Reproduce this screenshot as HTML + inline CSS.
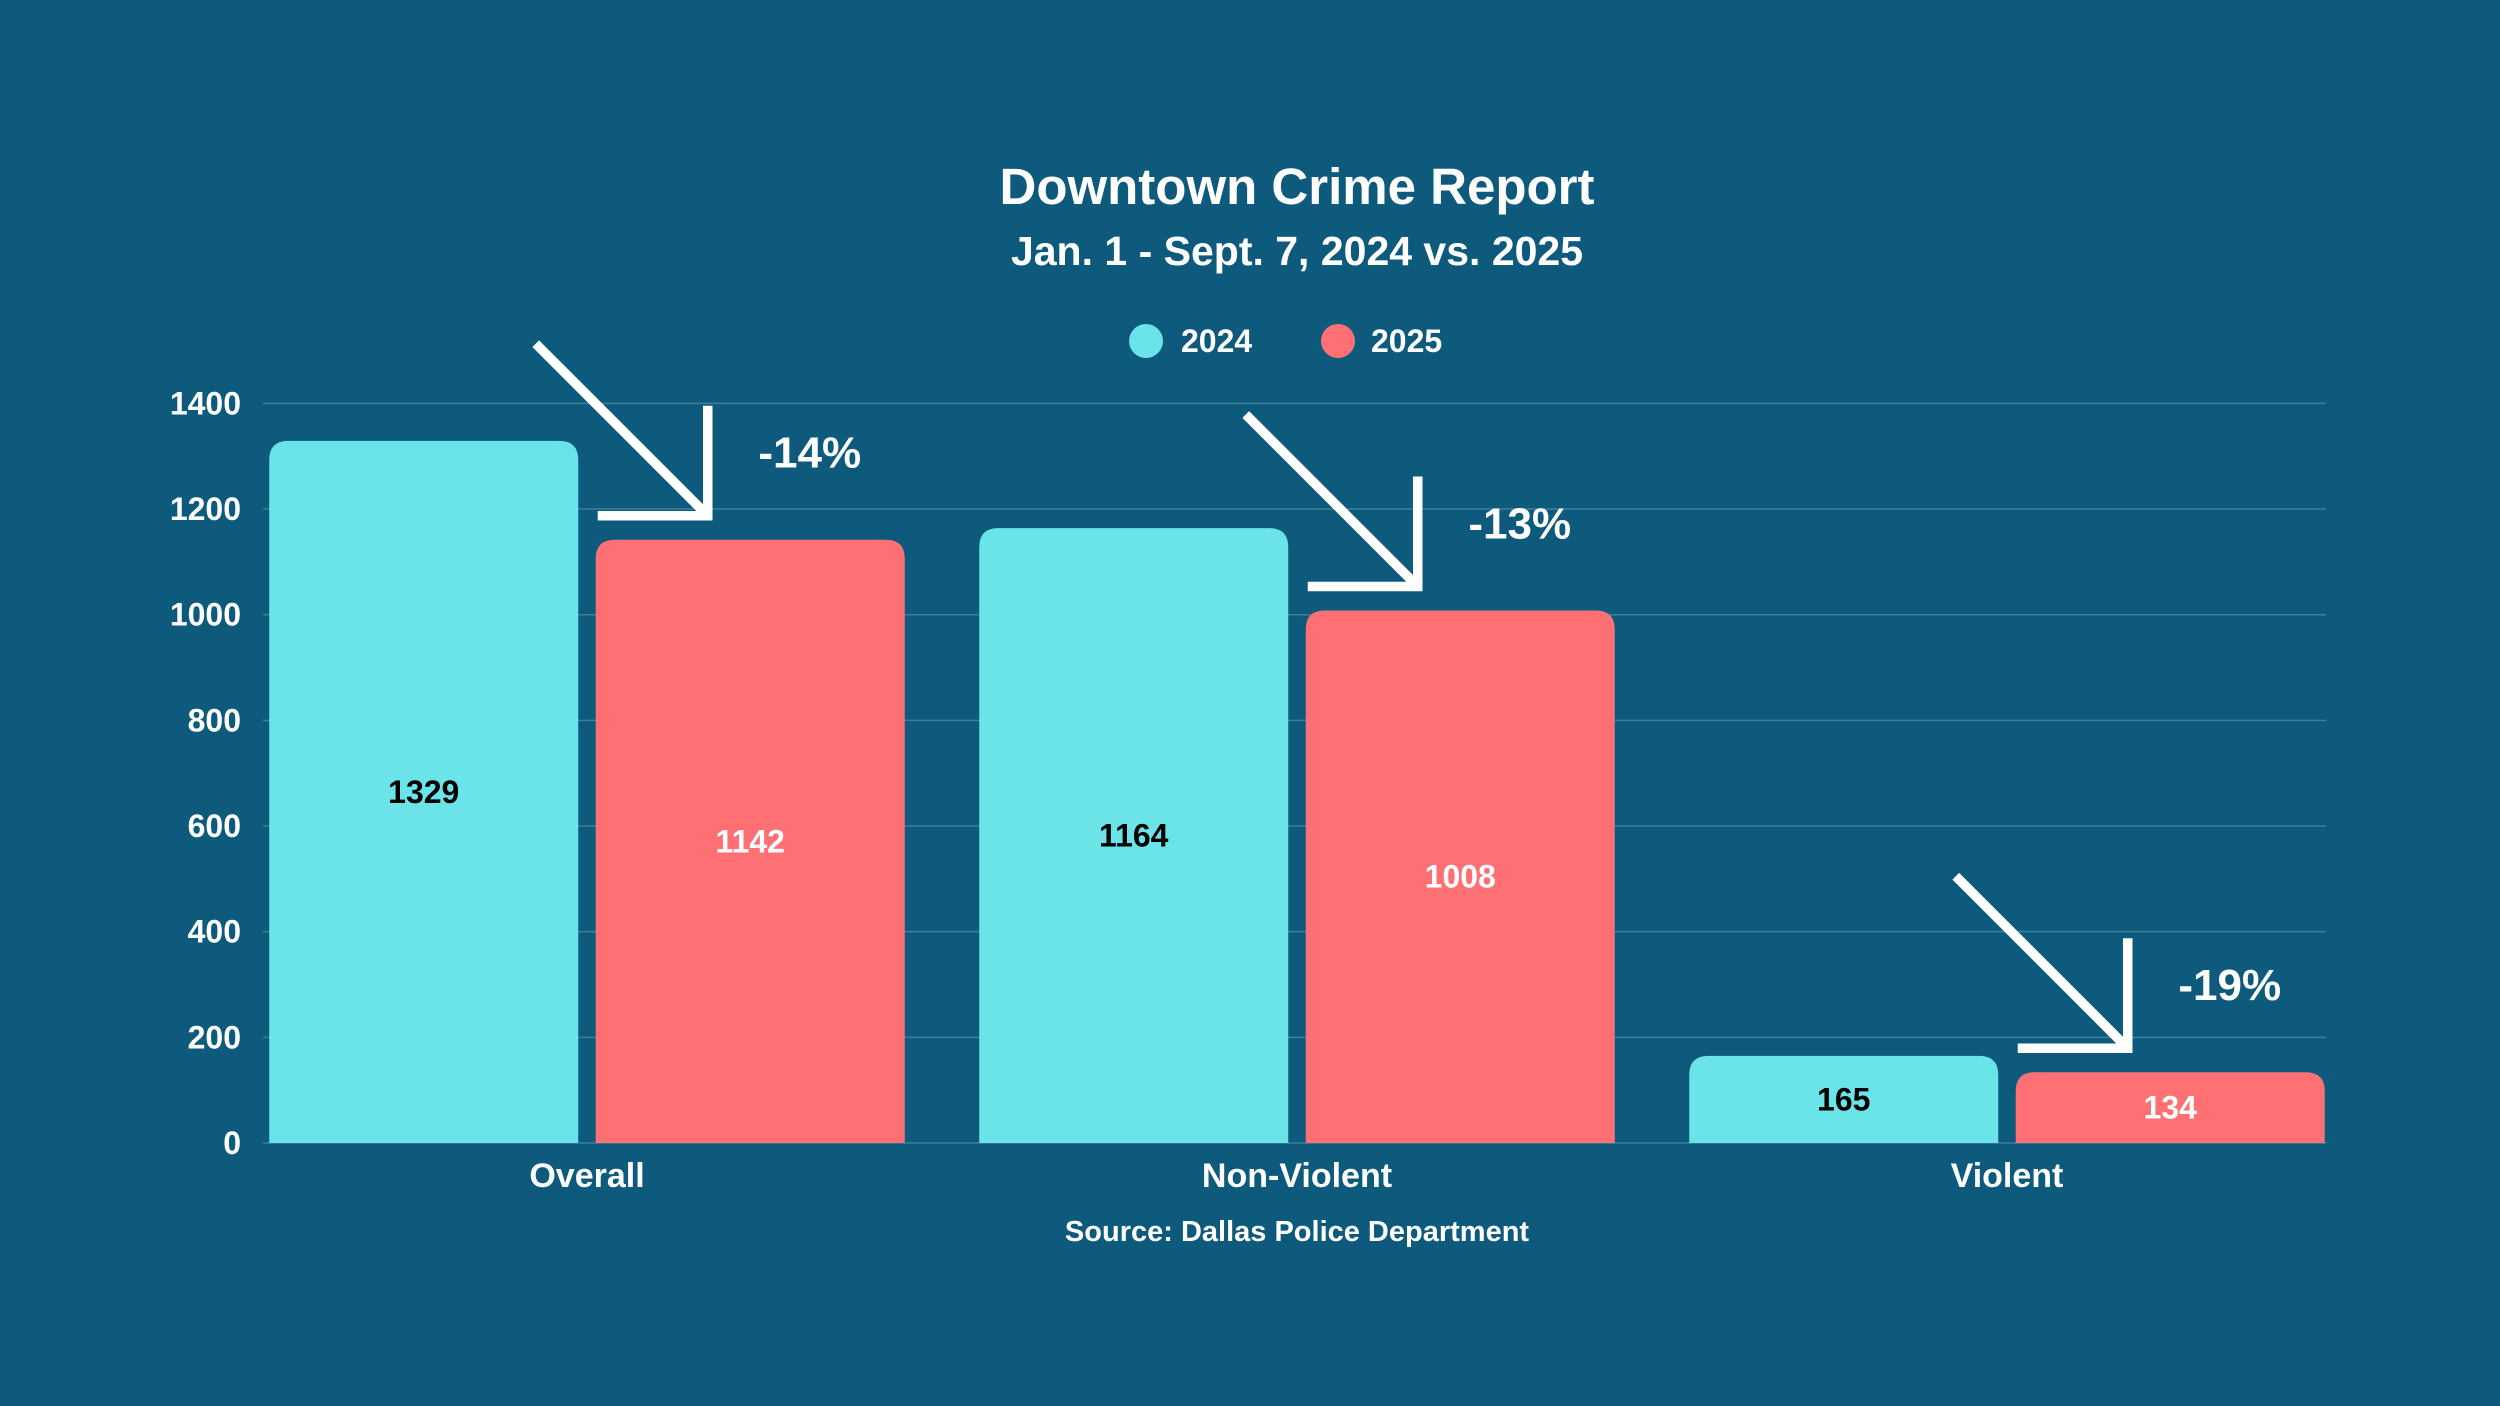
<!DOCTYPE html>
<html><head><meta charset="utf-8">
<style>
html,body{margin:0;padding:0;background:#0e5a7d;}
svg{display:block;font-family:"Liberation Sans",Arial,sans-serif;font-weight:bold;}
</style></head>
<body>
<svg id="chart" width="2500" height="1406" viewBox="0 0 2500 1406" xmlns="http://www.w3.org/2000/svg">
<rect width="2500" height="1406" fill="#0e5a7d"/>
<text x="1297" y="204" text-anchor="middle" fill="#fff" font-size="51">Downtown Crime Report</text>
<text x="1297" y="265" text-anchor="middle" fill="#fff" font-size="41">Jan. 1 - Sept. 7, 2024 vs. 2025</text>
<g>
<circle cx="1146" cy="341" r="17" fill="#6ae4e8"/>
<text x="1181" y="352" fill="#fff" font-size="32">2024</text>
<circle cx="1338" cy="341" r="17" fill="#ff7074"/>
<text x="1371" y="352" fill="#fff" font-size="32">2025</text>
</g>
<g id="grid"></g><g id="bars"></g><g id="ann"></g>
<text x="1297" y="1241" text-anchor="middle" fill="#fff" font-size="29">Source: Dallas Police Department</text>
</svg>
<script>
const categories = ["Overall", "Non-Violent", "Violent"];
const values2024 = [1329, 1164, 165];
const values2025 = [1142, 1008, 134];
const changeLabels = ["-14%", "-13%", "-19%"];
const yTicks = [0, 200, 400, 600, 800, 1000, 1200, 1400];

const NS = "http://www.w3.org/2000/svg";
const y0 = 1143, yTop = 403.4, yMax = 1400;
const y = v => y0 - (v / yMax) * (y0 - yTop);
const groupStart = 232, band = 710;
const xc = i => groupStart + band * (i + 0.5);
const barW = 309, gap = 17.5, r = 19;
function mk(tag, attrs, parent) {
  const e = document.createElementNS(NS, tag);
  for (const k in attrs) e.setAttribute(k, attrs[k]);
  parent.appendChild(e); return e;
}
const grid = document.getElementById("grid");
yTicks.forEach(t => {
  const l = mk("line", {x1: 263, x2: 2326, y1: y(t), y2: y(t), stroke: "#3d7f9d", "stroke-width": 1.5}, grid);
  
  
  const tx = mk("text", {x: 241, y: y(t) + 11, "text-anchor": "end", fill: "#fff", "font-size": 32}, grid);
  tx.textContent = t;
  
  
});
function barPath(x, top, w, bottom) {
  const rr = Math.min(r, (bottom - top));
  return `M${x},${bottom}V${top+rr}Q${x},${top} ${x+rr},${top}H${x+w-rr}Q${x+w},${top} ${x+w},${top+rr}V${bottom}Z`;
}
const bars = document.getElementById("bars"), ann = document.getElementById("ann");
categories.forEach((c, i) => {
  const cx = xc(i);
  const x1 = cx - gap / 2 - barW, x2 = cx + gap / 2;
  const t1 = y(values2024[i]), t2 = y(values2025[i]);
  const b1 = mk("path", {d: barPath(x1, t1, barW, y0), fill: "#6ae4e8"}, bars);
  
  
  const b2 = mk("path", {d: barPath(x2, t2, barW, y0), fill: "#ff7074"}, bars);
  
  
  const v1 = mk("text", {x: x1 + barW / 2, y: (t1 + y0) / 2 + 11, "text-anchor": "middle", fill: "#000", "font-size": 32}, bars);
  v1.textContent = values2024[i];
  
  
  const v2 = mk("text", {x: x2 + barW / 2, y: (t2 + y0) / 2 + 11, "text-anchor": "middle", fill: "#fff", "font-size": 32}, bars);
  v2.textContent = values2025[i];
  
  
  const xl = mk("text", {x: cx, y: 1187, "text-anchor": "middle", fill: "#fff", "font-size": 34}, bars);
  xl.textContent = c;
  
  
  // arrow annotation
  const tipX = x2 + 112, tipY = t2 - 24;
  const a = mk("path", {d: `M${tipX-172},${tipY-172}L${tipX},${tipY}M${tipX},${tipY-110}V${tipY+4.5}M${tipX-110},${tipY}H${tipX+4.5}`, stroke: "#fff", "stroke-width": 9.5, fill: "none"}, ann);
  
  
  const pl = mk("text", {x: tipX + 102, y: tipY - 48, "text-anchor": "middle", fill: "#fff", "font-size": 44}, ann);
  pl.textContent = changeLabels[i];
  
  
});
</script>
</body></html>
